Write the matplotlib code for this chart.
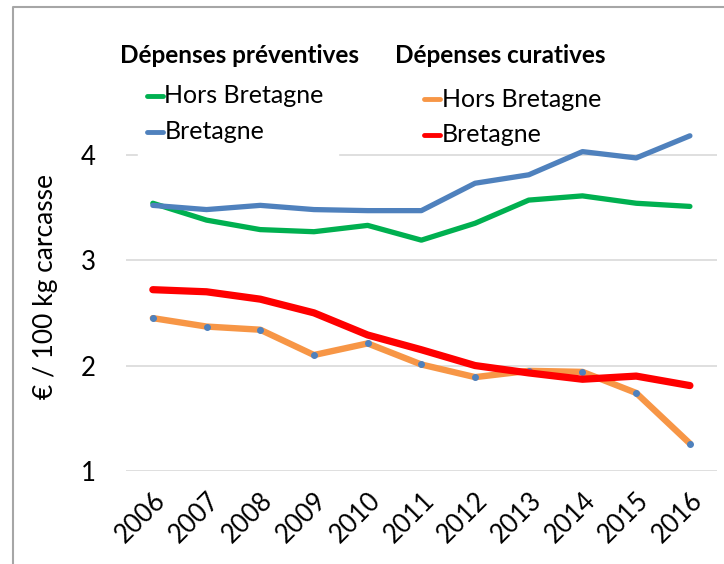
import matplotlib.pyplot as plt
from matplotlib.lines import Line2D
from matplotlib.patches import Rectangle

plt.rcParams['font.family'] = ['Lato', 'DejaVu Sans']

# données (€ / 100 kg carcasse)
annees = ['2006', '2007', '2008', '2009', '2010', '2011',
          '2012', '2013', '2014', '2015', '2016']
prev_hors_bretagne = [3.54, 3.38, 3.29, 3.27, 3.33, 3.19, 3.35, 3.57, 3.61, 3.54, 3.51]
prev_bretagne = [3.52, 3.48, 3.52, 3.48, 3.47, 3.47, 3.73, 3.81, 4.03, 3.97, 4.18]
cur_hors_bretagne = [2.45, 2.37, 2.34, 2.10, 2.21, 2.01, 1.89, 1.95, 1.94, 1.74, 1.26]
cur_bretagne = [2.72, 2.70, 2.63, 2.50, 2.29, 2.15, 2.00, 1.93, 1.87, 1.90, 1.81]

VERT = '#00B050'
BLEU = '#4F81BD'
ORANGE = '#F79646'
ROUGE = '#FF0000'

fig = plt.figure(figsize=(7.24, 5.64), dpi=100)
ax = fig.add_axes([0.174, 0.165, 0.816, 0.654])

x = range(len(annees))
ax.plot(x, prev_hors_bretagne, color=VERT, lw=3.8, solid_capstyle='round', zorder=3)
ax.plot(x, prev_bretagne, color=BLEU, lw=3.8, solid_capstyle='round', zorder=3)
ax.plot(x, cur_hors_bretagne, color=ORANGE, lw=4.6, solid_capstyle='round',
        marker='o', ms=4, mfc=BLEU, mec=BLEU, zorder=3)
ax.plot(x, cur_bretagne, color=ROUGE, lw=5.2, solid_capstyle='round', zorder=4)

ax.set_xlim(-0.5, len(annees) - 0.5)
ax.set_ylim(1, 4.5)
ax.set_yticks([1, 2, 3, 4])
ax.set_xticks(list(x))
ax.set_xticklabels(annees, rotation=45, ha='right', va='top', rotation_mode='anchor')
ax.tick_params(axis='both', length=0, labelsize=18.5)
ax.tick_params(axis='x', pad=12)
ax.tick_params(axis='y', pad=22)
ax.grid(axis='y', color='#D9D9D9', lw=1.2)
ax.set_axisbelow(True)
for s in ax.spines.values():
    s.set_visible(False)
ax.set_ylabel('€ / 100 kg carcasse', fontsize=19, labelpad=16)

# fond blanc derrière la légende de gauche (masque la grille)
fig.add_artist(Rectangle((138 / 724, 1 - 160 / 564), 200 / 724, 75 / 564,
                         transform=fig.transFigure, color='white', zorder=2))

# légende en deux colonnes
fig.text(0.166, 0.902, 'Dépenses préventives', fontsize=17.5, fontweight='bold',
         va='center', ha='left')
fig.text(0.546, 0.902, 'Dépenses curatives', fontsize=17.5, fontweight='bold',
         va='center', ha='left')

entrees = [
    (0.203, 0.830, VERT, 'Hors Bretagne'),
    (0.203, 0.766, BLEU, 'Bretagne'),
    (0.586, 0.824, ORANGE, 'Hors Bretagne'),
    (0.586, 0.761, ROUGE, 'Bretagne'),
]
for x0, y0, c, lab in entrees:
    fig.add_artist(Line2D([x0, x0 + 0.022], [y0, y0], color=c, lw=3.5,
                          solid_capstyle='round', transform=fig.transFigure, zorder=5))
    fig.text(x0 + 0.024, y0, lab, fontsize=18, va='center', ha='left', zorder=5)

# cadre gris du graphique
fig.add_artist(Line2D([13 / 724, 13 / 724, 1.0], [0.0, 1 - 7 / 564, 1 - 7 / 564],
                      color='#A6A6A6', lw=1.5, transform=fig.transFigure))

fig.savefig('out.png', dpi=100)
